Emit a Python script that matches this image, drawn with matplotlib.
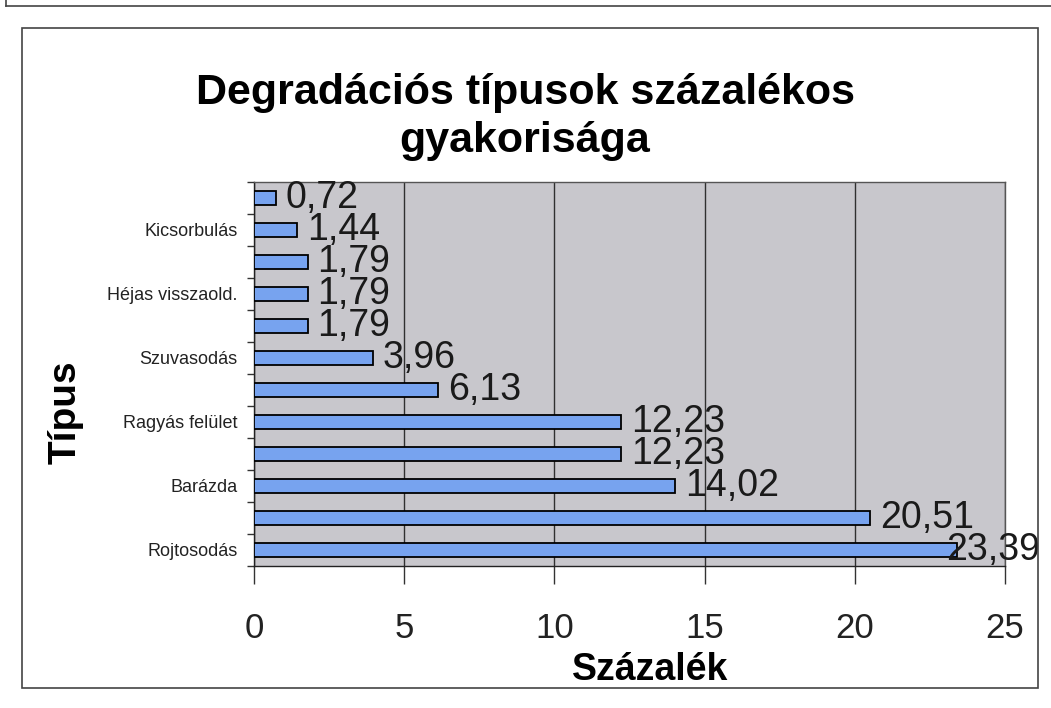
import matplotlib
matplotlib.use('Agg')
import matplotlib.pyplot as plt
from matplotlib.patches import Rectangle
from matplotlib.lines import Line2D

# ---- data (bottom to top) ----
categories = ['Rojtosodás', '', 'Barázda', '', 'Ragyás felület', '',
              'Szuvasodás', '', 'Héjas visszaold.', '', 'Kicsorbulás', '']
values = [23.39, 20.51, 14.02, 12.23, 12.23, 6.13, 3.96, 1.79, 1.79, 1.79, 1.44, 0.72]
x_ticks = [0, 5, 10, 15, 20, 25]
title_lines = ['Degradációs típusok százalékos', 'gyakorisága']
x_label = 'Százalék'
y_label = 'Típus'

plt.rcParams['font.family'] = ['Liberation Sans', 'DejaVu Sans']

W, H = 1051, 708
fig = plt.figure(figsize=(W / 100, H / 100), dpi=100)
fig.patch.set_facecolor('white')


def fx(px):
    return px / W


def fy(py):
    return 1 - py / H


# chart borders
fig.add_artist(Rectangle((fx(22), fy(688)), fx(1038) - fx(22), fy(28) - fy(688),
                         transform=fig.transFigure, fill=False,
                         edgecolor='#444444', linewidth=1.2))
fig.add_artist(Line2D([fx(6), fx(1051)], [fy(6), fy(6)], transform=fig.transFigure,
                      color='#444444', linewidth=1.2))
fig.add_artist(Line2D([fx(6), fx(6)], [fy(0), fy(6)], transform=fig.transFigure,
                      color='#444444', linewidth=1.2))

ax = fig.add_axes([fx(254), fy(566), fx(1005) - fx(254), fy(182) - fy(566)])
ax.set_facecolor('#c8c7cc')

ypos = list(range(len(values)))
ax.barh(ypos, values, height=0.45, color='#77a3ef', edgecolor='black',
        linewidth=1.3, zorder=3)

ax.set_xlim(0, 25)
ax.set_ylim(-0.5, len(values) - 0.5)
ax.set_xticks(x_ticks)
ax.set_xticklabels([str(t) for t in x_ticks], fontsize=25, color='#222222')
ax.xaxis.grid(True, color='#303030', linewidth=1)
ax.set_axisbelow(True)

ax.set_yticks(ypos)
ax.set_yticklabels(categories, fontsize=13, color='#222222')
ax.set_yticks([i - 0.5 for i in range(len(values) + 1)], minor=True)
ax.tick_params(axis='y', which='major', length=0, pad=12)
ax.tick_params(axis='y', which='minor', length=5, width=1, color='#333333')
ax.tick_params(axis='x', length=13, width=1, pad=20, color='#333333')

for side in ['left', 'bottom']:
    ax.spines[side].set_color('#222222')
    ax.spines[side].set_linewidth(1)
for side in ['top', 'right']:
    ax.spines[side].set_color('#555555')
    ax.spines[side].set_linewidth(1)

labels = []
for i, v in enumerate(values):
    t = ax.annotate(f'{v:.2f}'.replace('.', ','), xy=(v, i), xytext=(7, 0),
                    textcoords='offset points', ha='left', va='center',
                    fontsize=27, color='#1a1a1a', annotation_clip=False, zorder=4)
    labels.append(t)

fig.text(fx(525), fy(93), title_lines[0], fontsize=31, fontweight='bold',
         ha='center', va='center')
fig.text(fx(525), fy(141), title_lines[1], fontsize=31, fontweight='bold',
         ha='center', va='center')
fig.text(fx(650), fy(670), x_label, fontsize=27, fontweight='bold',
         ha='center', va='center')
fig.text(fx(66), fy(412), y_label, fontsize=28, fontweight='bold',
         ha='center', va='center', rotation=90)

# keep data labels inside the chart area (as Excel does)
fig.canvas.draw()
renderer = fig.canvas.get_renderer()
limit = 1040
for t in labels:
    bb = t.get_window_extent(renderer)
    if bb.x1 > limit:
        shift = (limit - bb.x1) * 72 / fig.dpi
        t.set_position((7 + shift, 0))

fig.savefig('out.png', dpi=100)
